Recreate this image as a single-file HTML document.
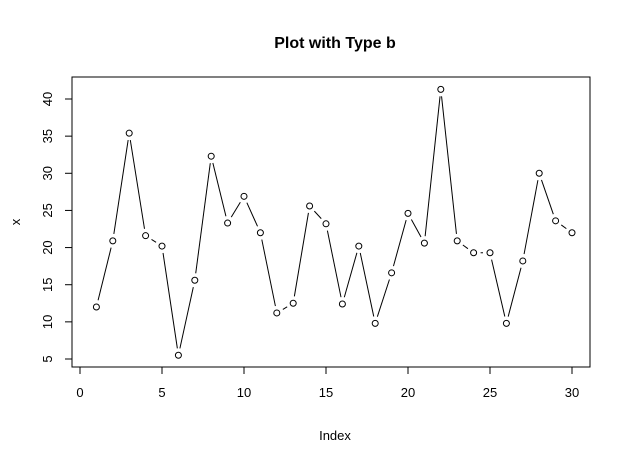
<!DOCTYPE html>
<html><head><style>body{margin:0;background:#fff}</style></head><body>
<svg id="s" width="632" height="464" xmlns="http://www.w3.org/2000/svg" font-family="Liberation Sans, Arial, sans-serif">
<rect x="0" y="0" width="632" height="464" fill="#fff"/>
<text x="335" y="48" text-anchor="middle" font-size="16" font-weight="bold">Plot with Type b</text>
<rect x="72" y="77" width="518" height="290" fill="none" stroke="#000" stroke-width="1"/>
<g id="g" stroke="#000" fill="none" stroke-width="1"></g>
<g font-size="13" fill="#000">
<text x="80" y="397" text-anchor="middle">0</text>
<text x="162" y="397" text-anchor="middle">5</text>
<text x="244" y="397" text-anchor="middle">10</text>
<text x="326" y="397" text-anchor="middle">15</text>
<text x="408" y="397" text-anchor="middle">20</text>
<text x="490" y="397" text-anchor="middle">25</text>
<text x="572" y="397" text-anchor="middle">30</text>
<text x="335" y="440" text-anchor="middle">Index</text>
<text x="20" y="222" text-anchor="middle" transform="rotate(-90 20 222)">x</text>
</g>
<g id="yl" font-size="13"></g>
</svg>
<script>
var v=[12,20.9,35.4,21.6,20.2,5.5,15.6,32.3,23.3,26.9,22,11.2,12.5,25.6,23.2,12.4,20.2,9.8,16.6,24.6,20.6,41.3,20.9,19.3,19.3,9.8,18.2,30,23.6,22];
function X(i){return 80+i*16.4}function Y(y){return 359-(y-5)*7.4286}
var h='';
h+='<line x1="80" y1="367" x2="572" y2="367"/>';
for(var i=0;i<=30;i+=5)h+='<line x1="'+X(i)+'" y1="367" x2="'+X(i)+'" y2="374"/>';
h+='<line x1="72" y1="359" x2="72" y2="99"/>';
var yl='';
for(var y=5;y<=40;y+=5){h+='<line x1="65" y1="'+Y(y)+'" x2="72" y2="'+Y(y)+'"/>';
yl+='<text x="0" y="0" text-anchor="middle" transform="translate(52 '+Y(y)+') rotate(-90)" dy="0">'+y+'</text>';}
var g=7;
for(var i=0;i<29;i++){var x1=X(i+1),y1=Y(v[i]),x2=X(i+2),y2=Y(v[i+1]);var dx=x2-x1,dy=y2-y1,d=Math.sqrt(dx*dx+dy*dy);
if(d>2*g){var ux=dx/d,uy=dy/d;h+='<line x1="'+(x1+ux*g)+'" y1="'+(y1+uy*g)+'" x2="'+(x2-ux*g)+'" y2="'+(y2-uy*g)+'"/>';}}
for(var i=0;i<30;i++)h+='<circle cx="'+X(i+1)+'" cy="'+Y(v[i])+'" r="3"/>';
document.getElementById('g').innerHTML=h;
document.getElementById('yl').innerHTML=yl;
</script>
</body></html>
